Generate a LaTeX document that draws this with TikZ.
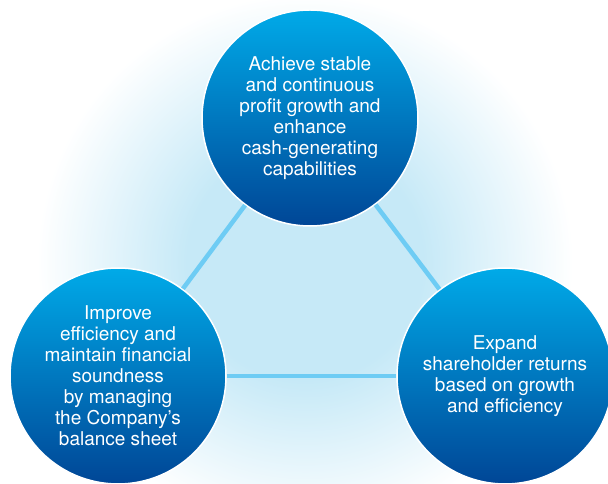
\documentclass[tikz,border=0pt]{standalone}
\usepackage{fontspec}
\setmainfont{TeX Gyre Heros}
\usepackage{xcolor}

\definecolor{goaltop}{RGB}{0,170,232}
\definecolor{goalmid}{RGB}{0,116,196}
\definecolor{goalbot}{RGB}{0,70,150}
\definecolor{linkblue}{RGB}{110,204,244}
\definecolor{glowblue}{RGB}{198,233,247}

% soft halo behind the three goals
\pgfdeclareradialshading{halo}{\pgfpoint{0bp}{0bp}}{color(0bp)=(glowblue); color(11bp)=(glowblue); color(25bp)=(white); color(50bp)=(white)}

\begin{document}
\begin{tikzpicture}[x=1pt,y=1pt,
    goal/.style={circle, minimum size=216pt, inner sep=0pt,
        top color=goaltop, middle color=goalmid, bottom color=goalbot,
        draw=white, line width=1.5pt, text=white, align=center,
        font=\fontsize{19}{21}\selectfont},
    link/.style={linkblue, line width=4.5pt}]
    \useasboundingbox (0,0) rectangle (608,484);

    % Background halo
    \shade[shading=halo] (305,222) circle (268);

    % Goal circles
    \node[goal] (profit) at (310,366) {Achieve stable\\and continuous\\profit growth and\\enhance\\cash-generating\\capabilities};
    \node[goal] (balance) at (118,108) {Improve\\efficiency and\\maintain financial\\soundness\\by managing\\the Company’s\\balance sheet};
    \node[goal] (returns) at (505,108) {Expand\\shareholder returns\\based on growth\\and efficiency};

    % Links between the goals
    \draw[link] (profit) -- (balance);
    \draw[link] (profit) -- (returns);
    \draw[link] (balance) -- (returns);
\end{tikzpicture}
\end{document}
